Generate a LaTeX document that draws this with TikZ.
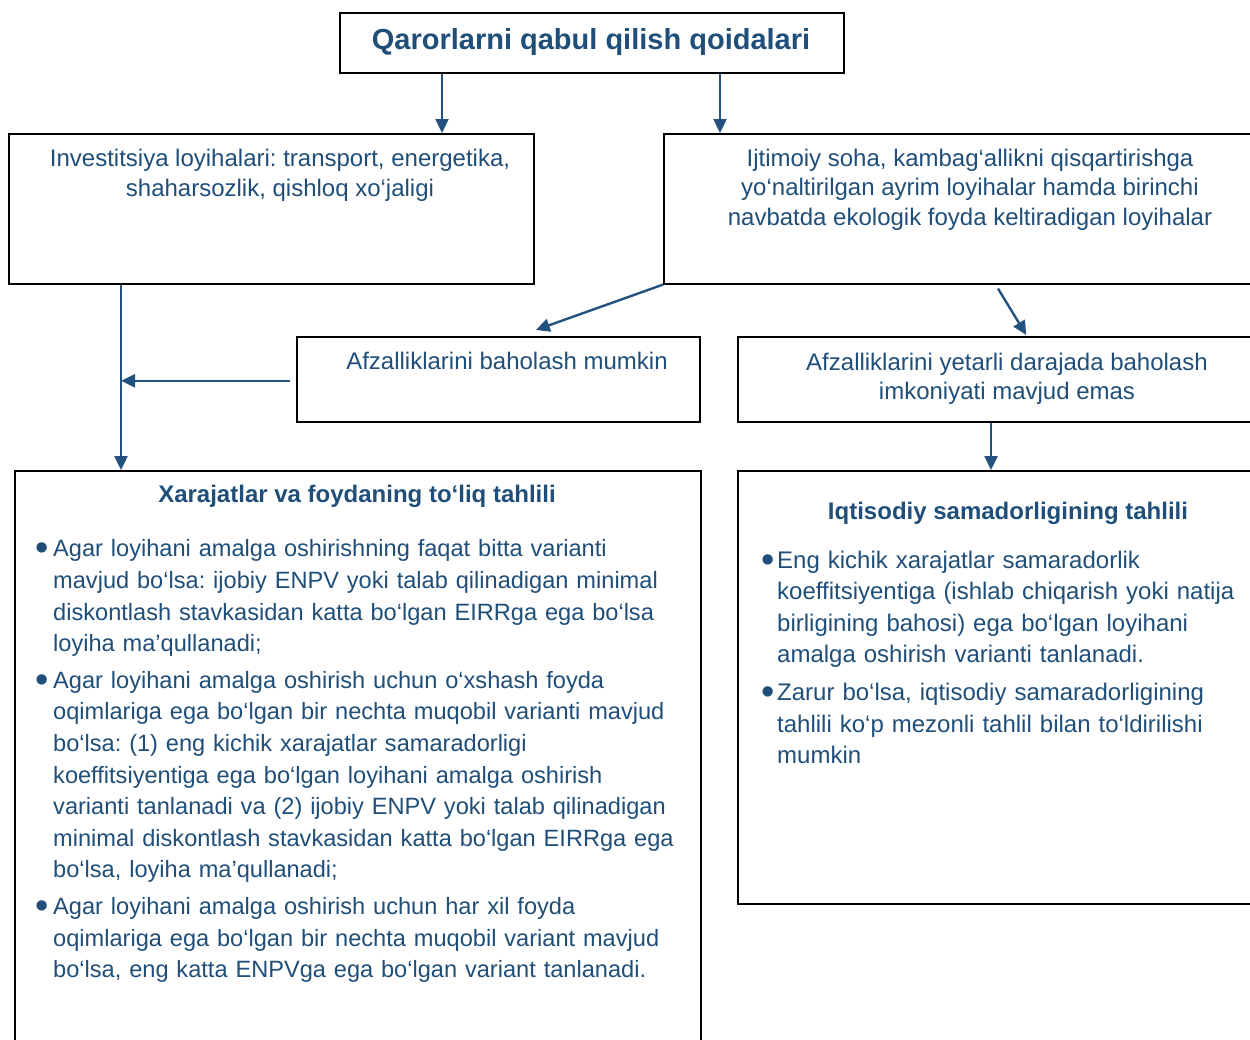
\documentclass[tikz,border=0pt]{standalone}
\usepackage{fontspec}
\setmainfont{Liberation Sans}
\usetikzlibrary{arrows.meta,calc}
\definecolor{tblue}{RGB}{31,78,121}
\definecolor{ablue}{RGB}{36,82,128}
\frenchspacing
\newcommand{\bul}[1]{\hangindent=#1\hangafter=1\noindent\makebox[#1][l]{\hspace{1.5pt}\raisebox{-4pt}{\fontsize{38}{38}\selectfont •}}}
\begin{document}
\begin{tikzpicture}[x=1pt,y=-1pt,
  box/.style={draw=black,line width=1.6pt,inner sep=0pt,anchor=north west},
  txt/.style={inner sep=0pt,text=tblue,align=center,font=\fontsize{24}{30}\selectfont},
  hdr/.style={inner sep=0pt,text=tblue,font=\bfseries\fontsize{24}{30}\selectfont,anchor=base},
  lst/.style={inner sep=0pt,text=tblue,anchor=north west,font=\fontsize{24}{31.6}\selectfont},
  arr/.style={draw=ablue,line width=2.4pt,-{Triangle[length=14pt,width=13pt]}}]
\useasboundingbox (0,0) rectangle (1250,1039);
% boxes
\node[box,minimum width=504,minimum height=60] (T) at (339,12) {};
\node[box,minimum width=525,minimum height=150] (A) at (8,133) {};
\node[box,minimum width=615,minimum height=150] (B) at (663,133) {};
\node[box,minimum width=403,minimum height=85] (C) at (296,336) {};
\node[box,minimum width=541,minimum height=85] (D) at (737,336) {};
\node[box,minimum width=686,minimum height=590] (E) at (14,470) {};
\node[box,minimum width=541,minimum height=433] (F) at (737,470) {};
% texts
\node[inner sep=0pt,text=tblue,font=\bfseries\fontsize{29}{35}\selectfont,anchor=base] (Tt) at (591,49.5) {Qarorlarni qabul qilish qoidalari};
\node[txt,anchor=north] (At) at (280,148.5) {Investitsiya loyihalari: transport, energetika,\\ shaharsozlik, qishloq xo‘jaligi};
\node[txt,anchor=north,font=\fontsize{24}{29.5}\selectfont] (Bt) at (970,148.5) {Ijtimoiy soha, kambag‘allikni qisqartirishga\\ yo‘naltirilgan ayrim loyihalar hamda birinchi\\ navbatda ekologik foyda keltiradigan loyihalar};
\node[txt,anchor=north] (Ct) at (507,352) {Afzalliklarini baholash mumkin};
\node[txt,anchor=north,font=\fontsize{24}{29}\selectfont] (Dt) at (1007,352.8) {Afzalliklarini yetarli darajada baholash\\ imkoniyati mavjud emas};
\node[hdr] (Et) at (357,502) {Xarajatlar va foydaning to‘liq tahlili};
\node[hdr] (Ft) at (1008,519) {Iqtisodiy samadorligining tahlili};
\node[lst,text width=700pt,font=\fontsize{23.6}{31.6}\selectfont] (El) at (34,539.5) {\raggedright\setlength{\parskip}{5pt}%
\bul{19pt}Agar loyihani amalga oshirishning faqat bitta varianti\newline
mavjud bo‘lsa: ijobiy ENPV yoki talab qilinadigan minimal\newline
diskontlash stavkasidan katta bo‘lgan EIRRga ega bo‘lsa\newline
loyiha ma’qullanadi;\par
\bul{19pt}Agar loyihani amalga oshirish uchun o‘xshash foyda\newline
oqimlariga ega bo‘lgan bir nechta muqobil varianti mavjud\newline
bo‘lsa: (1) eng kichik xarajatlar samaradorligi\newline
koeffitsiyentiga ega bo‘lgan loyihani amalga oshirish\newline
varianti tanlanadi va (2) ijobiy ENPV yoki talab qilinadigan\newline
minimal diskontlash stavkasidan katta bo‘lgan EIRRga ega\newline
bo‘lsa, loyiha ma’qullanadi;\par
\bul{19pt}Agar loyihani amalga oshirish uchun har xil foyda\newline
oqimlariga ega bo‘lgan bir nechta muqobil variant mavjud\newline
bo‘lsa, eng katta ENPVga ega bo‘lgan variant tanlanadi.\par};
\node[lst,text width=520pt] (Fl) at (760,550.5) {\raggedright\setlength{\parskip}{6pt}%
\bul{17pt}Eng kichik xarajatlar samaradorlik\newline
koeffitsiyentiga (ishlab chiqarish yoki natija\newline
birligining bahosi) ega bo‘lgan loyihani\newline
amalga oshirish varianti tanlanadi.\par
\bul{17pt}Zarur bo‘lsa, iqtisodiy samaradorligining\newline
tahlili ko‘p mezonli tahlil bilan to‘ldirilishi\newline
mumkin\par};
% connectors
\coordinate (x1) at (442,0);
\coordinate (x2) at (720,0);
\coordinate (x3) at (121,0);
\coordinate (x4) at (991,0);
\draw[arr] (x1 |- T.south) -- (x1 |- A.north);
\draw[arr] (x2 |- T.south) -- (x2 |- B.north);
\draw[arr] (B.south west) -- ($(C.north)+(37.5,-6)$);
\draw[arr] ($(B.south west)+(335,4)$) -- ($(D.north)+(18,-1)$);
\draw[arr] (x3 |- A.south) -- (x3 |- E.north);
\draw[arr] ($(C.west)+(-6,1.5)$) -- ($(x3 |- C.west)+(0,1.5)$);
\draw[arr] (x4 |- D.south) -- (x4 |- F.north);
\end{tikzpicture}
\end{document}
